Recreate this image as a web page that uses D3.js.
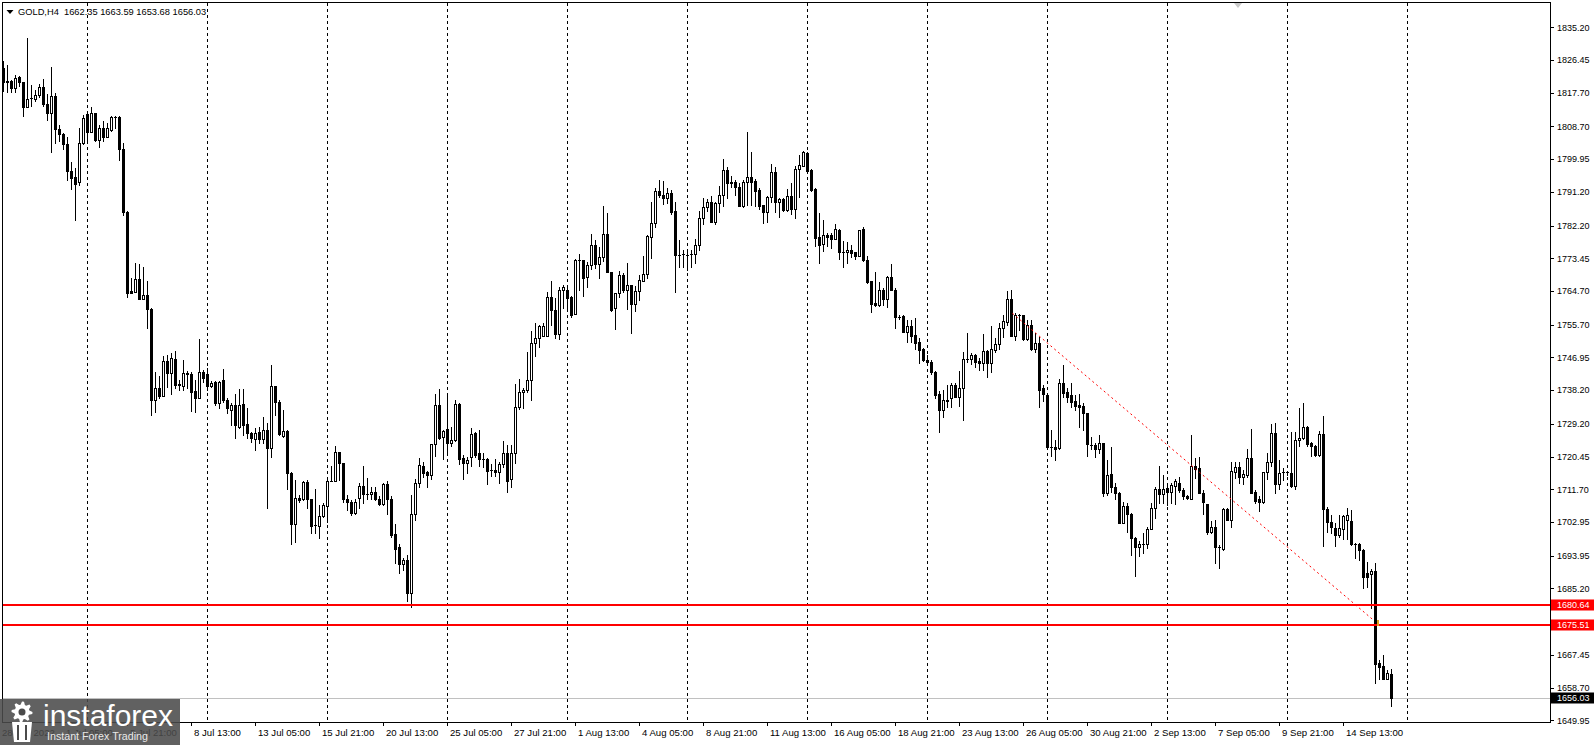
<!DOCTYPE html>
<html><head><meta charset="utf-8">
<script src="https://cdn.jsdelivr.net/npm/d3@7"></script>
<style>html,body{margin:0;padding:0;background:#fff;overflow:hidden}text{font-family:"Liberation Sans",Arial,sans-serif}</style>
</head><body>
<svg id="c" width="1594" height="745"></svg>
<script>
// ---- DATA (GOLD, H4) ----
const symbolName = "GOLD,H4";
const headerValues = [1662.35, 1663.59, 1653.68, 1656.03];
const opens = [1824.3,1820.6,1820.9,1818.9,1821.8,1820.5,1813.9,1816.4,1816.1,1817.0,1819.3,1814.8,1812.4,1816.9,1807.9,1806.6,1803.9,1796.9,1795.1,1793.8,1804.2,1811.9,1807.3,1812.2,1805.2,1808.2,1805.9,1807.7,1811.1,1811.2,1802.8,1785.7,1764.8,1764.5,1767.9,1762.7,1763.6,1759.8,1735.5,1738.7,1736.7,1746.0,1742.7,1746.6,1739.8,1739.4,1742.9,1742.4,1737.9,1736.2,1743.1,1742.4,1739.4,1740.4,1734.7,1740.9,1735.5,1732.9,1734.2,1728.3,1734.4,1729.1,1726.7,1725.2,1727.1,1725.1,1727.5,1722.7,1739.3,1734.9,1726.0,1727.3,1716.0,1702.3,1709.5,1709.1,1713.6,1709.1,1702.1,1701.9,1704.5,1707.3,1713.9,1713.9,1721.6,1718.7,1709.2,1708.3,1705.4,1709.5,1712.7,1710.5,1710.4,1710.9,1709.2,1707.7,1713.1,1709.2,1699.7,1696.2,1691.6,1692.8,1684.1,1705.2,1713.3,1717.9,1716.2,1715.6,1723.7,1734.2,1725.6,1727.7,1724.0,1724.9,1734.5,1720.0,1718.6,1720.3,1726.7,1721.3,1719.7,1719.7,1716.9,1716.9,1716.4,1718.5,1721.5,1714.4,1721.3,1733.8,1737.6,1738.2,1740.9,1750.8,1752.1,1752.8,1752.8,1763.2,1759.6,1753.2,1765.0,1765.0,1763.2,1758.5,1773.0,1773.0,1768.5,1771.6,1777.0,1771.9,1773.9,1779.9,1769.7,1760.1,1764.1,1769.0,1765.0,1766.3,1761.2,1764.7,1767.4,1769.2,1779.2,1782.8,1791.5,1790.4,1789.5,1791.0,1786.1,1774.4,1774.6,1774.4,1774.5,1774.5,1777.0,1784.1,1787.1,1788.6,1783.2,1788.2,1790.4,1797.1,1793.9,1793.9,1792.6,1787.5,1793.9,1795.1,1794.1,1791.7,1787.7,1785.7,1789.8,1796.4,1788.6,1789.3,1786.4,1790.1,1786.7,1797.3,1798.2,1801.5,1797.1,1792.0,1779.2,1777.2,1779.6,1779.6,1778.7,1781.0,1775.0,1775.2,1775.8,1775.0,1774.1,1781.3,1773.0,1767.4,1761.4,1761.0,1765.1,1762.7,1768.5,1765.1,1757.8,1758.0,1753.8,1755.4,1753.0,1751.0,1749.2,1746.3,1745.7,1743.1,1737.1,1732.8,1735.4,1736.0,1739.6,1736.4,1738.9,1746.5,1746.5,1747.6,1746.1,1745.4,1748.7,1745.4,1749.0,1750.6,1754.8,1756.3,1762.7,1752.8,1758.3,1758.3,1751.8,1755.6,1749.2,1750.9,1738.7,1736.9,1723.1,1723.1,1722.7,1740.0,1737.6,1736.9,1735.3,1734.2,1733.9,1732.0,1723.5,1723.5,1722.4,1724.0,1710.7,1715.8,1712.4,1710.8,1702.7,1707.2,1705.2,1698.7,1696.3,1697.0,1697.0,1701.2,1706.6,1711.7,1710.5,1712.0,1711.1,1712.7,1713.5,1711.5,1709.9,1709.2,1717.8,1717.3,1710.8,1707.7,1700.3,1701.7,1696.3,1695.6,1706.4,1703.6,1716.4,1717.6,1715.1,1715.6,1720.0,1711.1,1709.0,1708.2,1716.4,1718.9,1726.8,1713.1,1716.2,1716.2,1716.0,1712.6,1724.9,1725.3,1728.3,1724.2,1723.3,1720.9,1726.4,1706.3,1703.0,1701.4,1699.5,1701.0,1703.4,1703.2,1697.0,1697.0,1695.5,1689.4,1689.0,1689.9,1665.3,1664.4,1661.1,1662.35];
const highs = [1826.2,1825.2,1821.2,1822.5,1822.3,1820.7,1832.3,1819.8,1818.5,1820.0,1821.4,1817.3,1824.6,1817.6,1809.1,1807.0,1805.9,1799.3,1797.7,1808.2,1811.7,1812.8,1813.9,1812.4,1809.1,1810.1,1809.5,1811.5,1811.5,1811.5,1804.2,1786.0,1768.1,1772.3,1771.8,1771.2,1767.4,1760.1,1743.1,1742.0,1747.2,1747.5,1748.1,1748.7,1740.9,1746.3,1743.3,1743.1,1740.9,1751.9,1743.5,1744.0,1740.6,1740.6,1740.6,1743.8,1736.0,1734.7,1737.3,1738.6,1738.6,1733.3,1727.1,1728.0,1728.3,1731.1,1729.3,1745.0,1739.3,1735.7,1732.9,1727.5,1716.4,1714.2,1710.2,1714.0,1714.2,1709.1,1711.7,1707.6,1707.9,1714.2,1717.8,1723.3,1721.6,1718.8,1710.2,1708.8,1709.2,1713.5,1717.9,1714.7,1712.2,1712.4,1709.8,1713.5,1713.8,1709.8,1702.4,1697.2,1693.2,1694.1,1710.2,1714.4,1720.0,1719.1,1716.7,1723.7,1737.3,1738.6,1727.5,1737.3,1728.3,1735.7,1734.8,1720.9,1720.4,1728.0,1727.1,1727.5,1721.3,1720.0,1718.5,1719.7,1719.1,1724.6,1723.5,1723.5,1739.8,1741.1,1738.7,1748.3,1754.1,1756.2,1755.6,1756.1,1764.5,1767.4,1762.8,1765.8,1766.3,1765.4,1763.4,1773.2,1774.6,1773.0,1772.5,1779.9,1778.3,1776.4,1787.5,1785.5,1769.7,1764.3,1770.0,1769.4,1772.1,1766.3,1766.0,1769.0,1774.0,1779.6,1788.4,1792.2,1794.4,1794.2,1792.2,1791.7,1788.6,1778.3,1775.6,1775.8,1775.6,1778.5,1786.0,1789.5,1789.2,1790.1,1788.4,1792.8,1799.9,1797.8,1795.5,1794.4,1793.5,1794.4,1807.1,1801.8,1794.6,1792.2,1787.7,1790.1,1798.7,1797.8,1789.5,1789.5,1791.9,1793.5,1798.1,1801.1,1802.2,1801.8,1797.2,1792.2,1785.5,1783.6,1780.2,1780.2,1782.5,1781.4,1778.1,1777.9,1777.0,1775.2,1781.1,1781.8,1774.0,1767.4,1769.7,1767.0,1765.4,1768.7,1771.9,1765.4,1758.3,1758.3,1757.0,1757.0,1757.4,1752.1,1749.4,1747.6,1746.3,1743.4,1738.0,1738.2,1739.6,1740.2,1740.0,1743.4,1748.5,1753.4,1748.1,1747.9,1746.8,1753.2,1749.0,1755.4,1752.1,1756.1,1758.3,1764.7,1765.0,1758.8,1758.5,1758.3,1757.0,1757.0,1753.4,1752.5,1739.6,1736.9,1727.5,1724.9,1741.3,1745.0,1738.7,1740.0,1736.9,1737.3,1734.7,1732.0,1725.7,1724.0,1726.2,1724.2,1719.5,1723.1,1713.3,1711.1,1708.3,1707.9,1705.4,1699.0,1697.9,1699.9,1701.7,1707.9,1712.4,1717.8,1715.6,1713.3,1713.3,1714.5,1715.1,1712.0,1710.2,1726.2,1720.0,1720.3,1711.5,1707.7,1703.3,1703.4,1696.8,1706.7,1706.6,1719.1,1719.1,1719.1,1716.9,1722.4,1727.7,1711.5,1709.8,1716.4,1721.5,1729.1,1729.3,1719.5,1717.3,1716.7,1727.1,1727.1,1733.3,1734.8,1728.6,1724.4,1723.5,1727.4,1731.3,1707.0,1704.8,1702.7,1704.8,1704.8,1706.8,1706.1,1697.4,1697.4,1695.6,1692.3,1690.3,1692.1,1666.0,1667.4,1663.5,1663.59];
const lows = [1818.2,1818.0,1817.8,1817.8,1819.4,1811.5,1813.9,1814.2,1815.4,1816.7,1814.2,1810.4,1801.9,1804.2,1804.8,1802.8,1794.4,1791.9,1783.8,1793.1,1803.9,1804.6,1807.3,1804.8,1803.3,1804.9,1805.9,1807.5,1808.3,1799.7,1785.1,1763.2,1764.1,1764.5,1762.5,1762.6,1754.9,1731.5,1732.4,1736.2,1736.7,1739.1,1737.3,1738.8,1738.2,1738.2,1738.7,1732.6,1732.4,1736.2,1740.4,1738.2,1739.1,1734.2,1733.3,1735.1,1732.0,1728.9,1725.5,1728.0,1726.2,1725.3,1724.4,1722.2,1724.0,1724.0,1706.8,1720.4,1731.5,1726.2,1725.6,1711.7,1697.0,1697.7,1708.2,1708.8,1706.7,1700.1,1699.9,1698.6,1704.3,1703.0,1713.8,1713.8,1714.2,1708.2,1706.1,1704.8,1705.2,1706.6,1707.9,1709.2,1709.2,1708.8,1707.4,1707.4,1705.2,1699.0,1691.9,1689.2,1690.1,1681.7,1680.3,1703.4,1712.4,1715.1,1712.4,1714.4,1720.6,1725.1,1719.8,1721.3,1723.3,1724.7,1718.5,1714.4,1716.0,1717.8,1720.4,1717.8,1717.6,1713.1,1715.3,1715.3,1713.3,1717.6,1711.1,1712.3,1718.8,1733.1,1733.5,1737.6,1735.5,1747.2,1749.8,1752.8,1752.8,1755.6,1752.1,1751.9,1760.1,1760.1,1757.8,1758.5,1765.1,1763.4,1765.8,1770.5,1770.8,1768.3,1772.8,1769.7,1759.4,1754.5,1763.0,1764.5,1759.8,1753.6,1759.4,1762.3,1767.4,1768.3,1773.6,1781.8,1789.8,1788.0,1788.2,1785.3,1764.5,1771.0,1771.0,1770.3,1771.2,1772.1,1775.8,1782.5,1786.0,1783.2,1782.5,1785.7,1787.3,1789.5,1792.6,1790.4,1787.5,1787.1,1787.7,1787.7,1787.5,1786.6,1782.9,1783.2,1788.4,1785.7,1784.4,1786.2,1786.0,1785.3,1784.2,1789.8,1798.1,1796.6,1791.5,1776.7,1772.1,1775.5,1776.7,1776.3,1778.6,1773.2,1771.0,1772.1,1773.8,1773.2,1774.0,1772.8,1766.8,1759.2,1760.7,1760.7,1761.0,1760.4,1765.1,1754.8,1757.2,1753.7,1751.2,1751.2,1749.2,1745.4,1746.1,1745.0,1742.5,1736.2,1727.1,1731.1,1733.6,1733.6,1736.3,1733.9,1730.2,1745.8,1745.2,1744.3,1743.5,1743.5,1741.7,1743.1,1748.3,1749.2,1752.5,1755.6,1752.8,1751.6,1754.3,1751.6,1751.6,1749.0,1748.3,1733.6,1735.3,1722.4,1720.6,1719.5,1722.4,1736.4,1735.1,1733.8,1732.9,1728.4,1727.5,1720.7,1722.4,1720.3,1721.3,1709.9,1710.2,1711.1,1709.0,1702.6,1702.6,1700.3,1694.1,1688.5,1693.9,1694.6,1695.9,1701.0,1703.9,1707.9,1707.9,1707.4,1707.9,1707.7,1711.1,1709.2,1709.0,1709.0,1714.6,1710.7,1705.0,1699.7,1699.9,1692.1,1690.6,1695.5,1703.4,1701.7,1714.7,1713.5,1713.1,1715.1,1710.7,1708.1,1705.8,1708.1,1714.4,1717.9,1710.7,1711.7,1714.2,1715.6,1712.4,1711.7,1723.3,1725.1,1723.3,1720.6,1720.6,1720.6,1696.5,1700.3,1700.1,1696.6,1699.0,1698.5,1698.3,1696.8,1693.2,1692.8,1685.2,1685.7,1679.9,1659.8,1661.1,1660.9,1660.9,1653.68];
const closes = [1820.7,1820.8,1818.9,1821.6,1820.5,1813.9,1816.1,1816.4,1817.2,1819.3,1814.7,1812.4,1816.9,1807.9,1806.6,1803.9,1796.9,1795.0,1793.4,1804.2,1810.9,1807.3,1812.2,1805.1,1808.2,1805.9,1808.2,1811.2,1811.3,1802.8,1785.7,1764.3,1764.3,1767.9,1762.7,1763.6,1759.8,1735.5,1738.7,1736.7,1746.0,1742.7,1746.8,1739.6,1739.6,1742.9,1742.4,1737.8,1736.2,1743.1,1741.5,1739.4,1740.0,1734.7,1740.3,1735.5,1733.3,1734.2,1728.9,1734.2,1728.9,1726.7,1725.5,1726.8,1725.1,1727.5,1722.7,1739.3,1734.9,1726.4,1727.3,1716.0,1702.3,1709.5,1708.8,1713.6,1709.1,1701.9,1702.1,1704.5,1707.4,1713.9,1713.9,1721.6,1718.7,1709.2,1708.3,1705.4,1708.2,1712.7,1710.4,1710.5,1711.1,1709.2,1707.7,1713.1,1709.2,1699.4,1695.8,1691.6,1692.8,1684.1,1705.2,1713.3,1718.2,1716.0,1715.6,1723.7,1734.2,1725.3,1727.4,1724.0,1724.9,1734.5,1719.7,1718.6,1719.5,1726.4,1720.9,1719.7,1719.7,1716.7,1716.9,1716.4,1718.5,1721.5,1714.0,1721.3,1733.8,1737.6,1738.2,1740.9,1750.8,1752.1,1755.4,1755.4,1763.2,1759.6,1753.2,1765.0,1765.8,1762.9,1758.3,1773.0,1773.0,1768.3,1771.6,1777.0,1771.9,1773.9,1779.9,1769.7,1759.6,1764.3,1769.0,1765.0,1766.3,1761.2,1764.7,1767.6,1769.2,1779.4,1782.8,1791.5,1790.4,1789.5,1790.9,1785.9,1774.3,1774.4,1774.6,1774.4,1774.5,1777.0,1784.1,1787.1,1788.5,1783.2,1788.2,1790.4,1797.1,1793.7,1793.5,1792.4,1787.5,1793.9,1795.3,1793.9,1791.5,1787.5,1785.7,1789.8,1796.4,1788.6,1789.3,1786.4,1790.1,1786.7,1797.2,1798.4,1801.9,1796.9,1791.7,1779.0,1777.0,1779.6,1779.2,1778.7,1781.2,1775.2,1775.0,1775.8,1774.9,1774.1,1781.1,1773.0,1767.2,1761.2,1761.0,1765.1,1762.7,1768.5,1765.1,1757.8,1757.8,1753.8,1755.4,1752.7,1750.8,1749.0,1746.3,1745.6,1743.1,1736.9,1732.9,1735.5,1735.7,1739.6,1736.4,1738.9,1746.5,1746.5,1747.6,1745.8,1745.4,1748.7,1745.4,1749.2,1750.6,1754.8,1756.7,1762.7,1752.8,1758.3,1758.3,1751.8,1755.6,1749.2,1750.9,1738.2,1737.1,1723.1,1723.1,1722.5,1740.0,1737.5,1736.4,1735.1,1733.9,1733.8,1732.0,1723.7,1723.5,1722.5,1724.0,1710.7,1715.6,1712.3,1710.8,1702.7,1707.2,1705.2,1698.6,1696.3,1697.2,1697.0,1701.2,1706.6,1711.7,1710.5,1711.7,1711.1,1712.9,1713.8,1711.5,1709.8,1709.5,1717.8,1717.1,1710.8,1708.3,1700.3,1701.7,1696.3,1696.3,1706.4,1703.6,1716.7,1717.6,1715.1,1715.8,1720.0,1710.8,1708.6,1708.2,1716.3,1718.9,1726.8,1713.1,1716.0,1716.2,1716.2,1712.6,1724.9,1725.3,1728.3,1723.8,1723.3,1720.9,1726.4,1706.3,1703.0,1701.5,1699.5,1701.4,1704.5,1704.8,1697.0,1697.0,1695.5,1688.3,1688.3,1689.9,1665.1,1664.2,1661.1,1662.5,1656.03];
const tickBars = [0,16,32,48,64,80,96,112,128,144,160,176,192,208,224,240,256,272,288,304,320,336];
const tickLabels = ["28 Jun 2022","1 Jul 05:00","5 Jul 21:00","8 Jul 13:00","13 Jul 05:00","15 Jul 21:00","20 Jul 13:00","25 Jul 05:00","27 Jul 21:00","1 Aug 13:00","4 Aug 05:00","8 Aug 21:00","11 Aug 13:00","16 Aug 05:00","18 Aug 21:00","23 Aug 13:00","26 Aug 05:00","30 Aug 21:00","2 Sep 13:00","7 Sep 05:00","9 Sep 21:00","14 Sep 13:00"];
const gridBars = [21,51,81,111,141,171,201,231,261,291,321,351];
const priceTicks = [1835.20,1826.45,1817.70,1808.70,1799.95,1791.20,1782.20,1773.45,1764.70,1755.70,1746.95,1738.20,1729.20,1720.45,1711.70,1702.95,1693.95,1685.20,1667.45,1658.70,1649.95];
const levelLines = [1680.64, 1675.51];
const lastPrice = 1656.03;
const trendBars = [252.35, 342.75];
const trendPrices = [1758.75, 1676.6];
const arrowMark = [343.6, 1676.0];

// ---- CHART ----
const svg = d3.select("#c");
const L = 3, R = 1550, T = 3, B = 722;
const n = opens.length;
const x = d3.scaleLinear().domain([0, n - 1]).range([3, 3 + 4 * (n - 1)]);
const y = d3.scaleLinear().domain([1649.35, 1841.70]).range([722.5, 3]);

svg.append("rect").attr("width",1594).attr("height",745).attr("fill","#fff");
svg.append("defs").append("clipPath").attr("id","clip").append("rect")
  .attr("x",L).attr("y",T).attr("width",R-L).attr("height",B-T);
const plot = svg.append("g").attr("clip-path","url(#clip)");

// vertical grid
plot.selectAll("line.grid").data(gridBars).join("line")
  .attr("x1",d=>Math.round(x(d))+0.5).attr("x2",d=>Math.round(x(d))+0.5)
  .attr("y1",T).attr("y2",B).attr("stroke","#000").attr("stroke-width",1)
  .attr("stroke-dasharray","3,3");

// last price line
const yl = Math.round(y(lastPrice)) + 0.5;
plot.append("line").attr("x1",L).attr("x2",R).attr("y1",yl).attr("y2",yl)
  .attr("stroke","#c0c0c0").attr("stroke-width",1);

// candles
const bars = d3.range(n).map(i => ({i, o:opens[i], h:highs[i], l:lows[i], c:closes[i]}));
const cg = plot.append("g").attr("shape-rendering","crispEdges");
bars.forEach(d => {
  const cx = Math.round(x(d.i));
  const yh = Math.round(y(d.h)), ylo = Math.round(y(d.l));
  const top = Math.round(y(Math.max(d.o,d.c))), bot = Math.round(y(Math.min(d.o,d.c)));
  cg.append("rect").attr("x",cx).attr("y",yh).attr("width",1).attr("height",Math.max(1,ylo-yh+1)).attr("fill","#000");
  if (bot - top < 1) {
    cg.append("rect").attr("x",cx-1).attr("y",top).attr("width",3).attr("height",1).attr("fill","#000");
  } else if (d.c >= d.o) {
    cg.append("rect").attr("x",cx-0.5).attr("y",top+0.5).attr("width",2).attr("height",bot-top)
      .attr("fill","#fff").attr("stroke","#000").attr("stroke-width",1);
  } else {
    cg.append("rect").attr("x",cx-1).attr("y",top).attr("width",3).attr("height",bot-top+1).attr("fill","#000");
  }
});

// level lines
levelLines.forEach(v => {
  const yy = Math.round(y(v));
  plot.append("rect").attr("x",L).attr("y",yy-1).attr("width",R-L).attr("height",2).attr("fill","#ff0000");
});

// trend line (dotted)
const tl = d3.line().x(d=>x(d[0])).y(d=>y(d[1]));
plot.append("path").attr("d", tl(d3.zip(trendBars, trendPrices)))
  .attr("fill","none").attr("stroke","#ff0000").attr("stroke-width",1).attr("stroke-dasharray","2,3");
plot.append("rect").attr("x",Math.round(x(arrowMark[0]))).attr("y",Math.round(y(arrowMark[1]))-3)
  .attr("width",2).attr("height",6).attr("fill","#e0a020");

// frame
svg.append("rect").attr("x",2.5).attr("y",2.5).attr("width",R-2).attr("height",B-2)
  .attr("fill","none").attr("stroke","#000").attr("stroke-width",1);

// price axis
const pa = svg.append("g");
priceTicks.forEach(v => {
  const yy = y(v);
  pa.append("line").attr("x1",R+1).attr("x2",R+4).attr("y1",Math.round(yy)+0.5).attr("y2",Math.round(yy)+0.5).attr("stroke","#000");
  pa.append("text").attr("x",1557).attr("y",yy+3.3).attr("font-size","9px").attr("fill","#000").text(v.toFixed(2));
});
levelLines.forEach(v => {
  const yy = Math.round(y(v));
  pa.append("rect").attr("x",R+1).attr("y",yy-5.5).attr("width",1594-R-1).attr("height",11).attr("fill","#ff0000");
  pa.append("text").attr("x",1557).attr("y",yy+3.3).attr("font-size","9px").attr("fill","#fff").text(v.toFixed(2));
});
{
  const yy = Math.round(y(lastPrice));
  pa.append("rect").attr("x",R+1).attr("y",yy-5.5).attr("width",1594-R-1).attr("height",11).attr("fill","#000");
  pa.append("text").attr("x",1557).attr("y",yy+3.3).attr("font-size","9px").attr("fill","#fff").text(lastPrice.toFixed(2));
}

// time axis
const ta = svg.append("g");
tickBars.forEach((b,k) => {
  const bx = Math.round(x(b));
  ta.append("line").attr("x1",bx-3.5).attr("x2",bx-3.5).attr("y1",B).attr("y2",B+4).attr("stroke","#000");
  ta.append("text").attr("x",bx-1).attr("y",736).attr("font-size","9.6px").attr("fill","#000").text(tickLabels[k]);
});

// header
svg.append("path").attr("d","M6.5,10 L13.5,10 L10,14 Z").attr("fill","#000");
svg.append("text").attr("x",18).attr("y",15).attr("font-size","9.3px").attr("fill","#000")
  .style("white-space","pre").text(symbolName + "  " + headerValues.map(v=>v.toFixed(2)).join(" "));
// chart shift marker
svg.append("path").attr("d","M1234,3 L1242,3 L1238,8 Z").attr("fill","#c8c8c8");

// watermark logo
const lg = svg.append("g");
lg.append("rect").attr("x",0).attr("y",699).attr("width",180).attr("height",46).attr("fill","#4b4b4b").attr("opacity",0.88);
const gear = [];
const teeth = 8, gcx = 22, gcy = 712;
for (let k = 0; k < teeth * 4; k++) {
  const a = (k / (teeth * 4)) * 2 * Math.PI;
  const r = (k % 4 === 0 || k % 4 === 1) ? 10.5 : 7.5;
  gear.push([gcx + r * Math.cos(a), gcy + r * Math.sin(a)]);
}
lg.append("path").attr("d", d3.line()(gear) + "Z").attr("fill","#fff");
lg.append("circle").attr("cx",gcx).attr("cy",gcy).attr("r",3.5).attr("fill","#4b4b4b");
lg.append("path").attr("d","M12,722 L32,722 L30,742 L14,742 Z").attr("fill","#fff");
lg.append("rect").attr("x",17).attr("y",725).attr("width",2).attr("height",15).attr("fill","#4b4b4b");
lg.append("rect").attr("x",25).attr("y",725).attr("width",2).attr("height",15).attr("fill","#4b4b4b");
lg.append("text").attr("x",43).attr("y",726).attr("font-size","29px").attr("fill","#fff")
  .attr("textLength",130).attr("lengthAdjust","spacingAndGlyphs").text("instaforex");
lg.append("text").attr("x",47).attr("y",740).attr("font-size","11px").attr("fill","#e8e8e8")
  .attr("textLength",101).attr("lengthAdjust","spacingAndGlyphs").text("Instant Forex Trading");
</script>
</body></html>
